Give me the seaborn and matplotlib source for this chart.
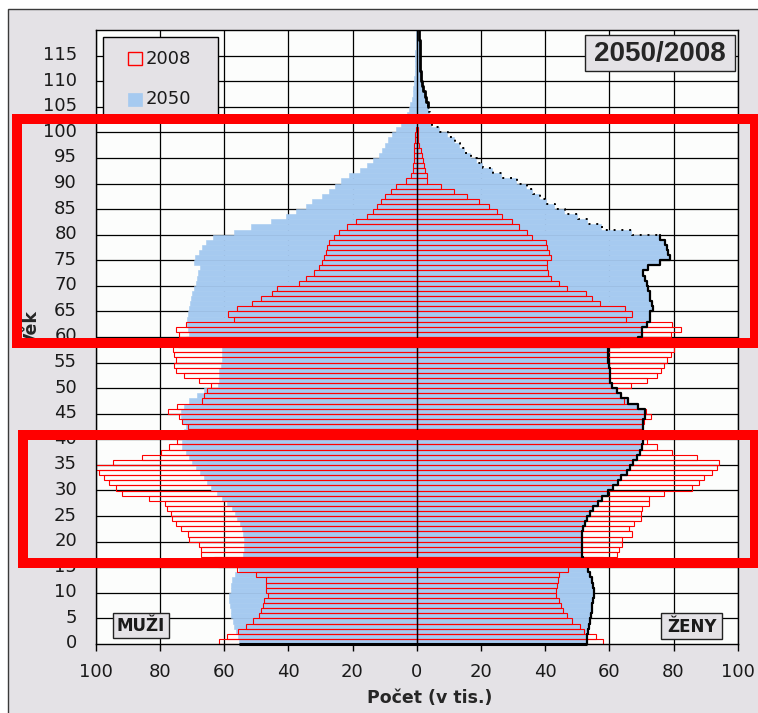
import numpy as np
import matplotlib
matplotlib.use("Agg")
import matplotlib.pyplot as plt
from matplotlib.patches import Rectangle
import seaborn as sns

sns.set_theme(style="white")
plt.rcParams['font.family'] = ['DejaVu Sans']

# --- data (thousands of people by single year of age) ---
ages = np.arange(120)
ages_2008 = np.arange(101)

male_2008 = np.array([
    61.5, 59.2, 55.6, 53.3, 51.0, 49.0, 48.5, 48.0, 47.5, 46.4,
    47.0, 47.0, 47.0, 50.2, 55.9, 62.0, 63.1, 67.3, 67.3, 67.8,
    70.9, 71.4, 73.5, 75.0, 76.1, 76.6, 77.7, 78.4, 83.4, 91.7,
    93.8, 95.8, 97.4, 99.0, 100.2, 94.6, 85.5, 79.8, 77.2, 74.6,
    72.0, 71.0, 71.4, 73.0, 74.0, 77.5, 74.6, 66.8, 66.3, 65.2,
    64.2, 67.8, 72.5, 75.0, 75.6, 75.0, 75.6, 76.0, 74.5, 72.0,
    74.0, 75.0, 72.0, 56.9, 58.7, 55.9, 51.2, 48.6, 45.2, 43.4,
    36.7, 34.6, 32.0, 30.4, 29.4, 28.9, 28.3, 27.8, 27.3, 25.8,
    24.2, 21.6, 19.0, 15.4, 13.5, 12.5, 11.2, 10.0, 8.0, 6.5,
    3.4, 1.9, 1.2, 1.0, 0.9, 0.8, 0.8, 0.8, 0.5, 0.4, 0.3])

female_2008 = np.array([
    58.0, 56.0, 52.0, 50.8, 48.5, 46.8, 45.7, 44.8, 44.3, 43.3,
    43.3, 43.8, 44.0, 44.3, 47.0, 52.0, 58.0, 62.5, 63.0, 64.0,
    64.0, 67.2, 66.1, 67.7, 69.8, 69.8, 70.3, 72.4, 72.4, 77.0,
    85.9, 88.0, 89.5, 92.1, 93.7, 94.2, 87.4, 79.6, 75.0, 71.8,
    70.0, 69.8, 70.3, 70.8, 72.9, 71.3, 68.7, 64.6, 63.5, 62.0,
    66.7, 71.8, 75.0, 76.0, 77.0, 78.1, 79.1, 80.2, 79.5, 78.5,
    79.1, 82.2, 79.4, 65.3, 67.2, 64.8, 57.0, 54.7, 52.6, 46.9,
    44.3, 41.7, 41.0, 40.5, 40.5, 41.7, 41.2, 40.7, 40.2, 36.0,
    34.5, 31.9, 29.8, 26.7, 25.1, 22.5, 19.4, 15.8, 11.6, 7.5,
    3.3, 3.1, 2.6, 2.3, 2.1, 1.8, 1.2, 0.7, 0.5, 0.4, 0.3])

male_2050 = np.array([
    55.3, 55.8, 56.3, 56.8, 57.3, 57.7, 58.0, 58.3, 58.5, 58.4,
    58.0, 57.8, 57.4, 56.5, 55.5, 55.0, 54.5, 54.0, 53.8, 53.8,
    53.8, 54.0, 54.3, 55.0, 55.9, 56.7, 57.4, 59.0, 60.5, 62.3,
    64.2, 65.2, 66.3, 67.6, 68.8, 70.0, 71.0, 72.0, 73.0, 73.0,
    72.8, 72.5, 72.0, 73.0, 73.3, 73.5, 72.5, 71.0, 68.5, 66.3,
    62.0, 61.6, 61.6, 61.6, 61.0, 60.8, 60.6, 60.6, 65.0, 70.0,
    71.0, 71.4, 71.6, 71.5, 71.2, 70.9, 70.7, 70.4, 70.0, 69.5,
    68.8, 68.5, 68.0, 67.5, 69.4, 69.2, 67.8, 67.0, 65.5, 63.5,
    57.0, 51.5, 45.5, 40.7, 37.5, 34.6, 32.5, 29.6, 27.3, 25.5,
    23.5, 21.0, 17.8, 15.4, 13.5, 11.8, 10.8, 10.0, 9.0, 7.7,
    6.5, 5.0, 4.0, 3.0, 2.5, 2.0, 1.5, 1.2, 1.0, 0.8,
    0.7, 0.6, 0.5, 0.5, 0.4, 0.4, 0.3, 0.3, 0.3, 0.2])

female_2050 = np.array([
    52.6, 52.9, 53.2, 53.4, 53.7, 54.0, 54.2, 54.4, 54.7, 54.9,
    54.9, 54.7, 54.2, 53.7, 53.2, 52.1, 51.6, 51.3, 51.1, 51.1,
    51.1, 51.3, 51.6, 52.1, 52.6, 53.7, 54.7, 56.3, 57.3, 59.4,
    60.9, 62.5, 63.5, 65.1, 66.1, 67.2, 68.2, 69.2, 69.8, 70.3,
    70.3, 70.3, 70.3, 70.3, 70.8, 70.8, 68.7, 65.6, 63.5, 62.0,
    60.4, 59.9, 59.9, 59.9, 59.5, 59.2, 59.2, 59.2, 63.0, 68.7,
    69.8, 69.8, 71.3, 72.4, 72.4, 73.4, 72.9, 72.4, 72.4, 71.8,
    71.3, 70.8, 70.3, 71.8, 75.5, 78.6, 78.1, 77.6, 77.0, 75.5,
    66.7, 57.3, 53.2, 50.0, 45.9, 42.8, 40.2, 38.1, 36.0, 34.0,
    30.8, 26.2, 23.6, 20.4, 18.4, 16.6, 14.7, 13.2, 11.6, 9.5,
    6.9, 4.4, 4.2, 3.8, 3.4, 3.1, 2.7, 2.3, 1.7, 1.2,
    1.0, 0.9, 0.8, 0.8, 0.7, 0.7, 0.6, 0.6, 0.5, 0.5])

xticks = np.arange(-100, 101, 20)
yticks = np.arange(0, 116, 5)

BLUE = '#A6CAF0'
RED = '#FF0000'
PANEL = '#E4E2E6'

# pixel helpers (image is 758 x 713)
W, H = 758, 713
AX_L, AX_R, AX_T, AX_B = 95.7, 737.7, 30.0, 644.0


def fx(px):
    return px / W


def fy(py):
    return 1 - py / H


def ax_x(px):
    return (px - AX_L) / (AX_R - AX_L)


def ax_y(py):
    return (AX_B - py) / (AX_B - AX_T)


fig = plt.figure(figsize=(7.58, 7.13), dpi=100)
fig.patch.set_facecolor('white')
fig.add_artist(Rectangle((fx(8), fy(720)), fx(765) - fx(8), fy(9) - fy(720),
                         transform=fig.transFigure, fc=PANEL, ec='#3a3a3a',
                         lw=1, zorder=-5))

ax = fig.add_axes([fx(AX_L), fy(AX_B), fx(AX_R) - fx(AX_L), fy(AX_T) - fy(AX_B)])
ax.set_facecolor('#FCFDFC')
ax.set_axisbelow(True)


def bars(values, yy, fill, color):
    n0 = len(ax.patches)
    sns.barplot(x=values, y=yy, orient='y', native_scale=True, width=1,
                color=color, saturation=1, fill=fill, errorbar=None, ax=ax)
    for p in ax.patches[n0:]:
        if fill:
            p.set_facecolor(color)
            p.set_edgecolor(color)
            p.set_linewidth(0.4)
            p.set_zorder(1)
        else:
            p.set_facecolor('none')
            p.set_edgecolor(color)
            p.set_linewidth(0.8)
            p.set_zorder(2)


# 2050 filled bars, 2008 outlined bars on top
bars(-male_2050, ages, True, BLUE)
bars(female_2050, ages, True, BLUE)
bars(-male_2008, ages_2008, False, RED)
bars(female_2008, ages_2008, False, RED)

# black outline along the 2050 female profile
edge_y = np.column_stack([ages - 0.5, ages + 0.5]).ravel()
edge_x = np.repeat(female_2050 + 0.3, 2)
ax.plot([-male_2050[0], edge_x[0]], [-0.5, -0.5], color='black', lw=2.2,
        zorder=3, clip_on=False, solid_capstyle='butt')
ax.plot(edge_x[:160], edge_y[:160], color='black', lw=1.6, zorder=3)
ax.plot(edge_x[158:212], edge_y[158:212], color='black', lw=1.4,
        linestyle=(0, (1, 3)), zorder=3)
ax.plot(edge_x[210:], edge_y[210:], color='black', lw=2.0, zorder=3)

ax.axvline(0, color='black', lw=1, zorder=4)

ax.set_xlim(-100, 100)
ax.set_ylim(-0.5, 119.5)
ax.set_xticks(xticks)
ax.set_xticklabels([str(abs(v)) for v in xticks])
ax.set_yticks(yticks)
ax.set_yticklabels([str(v) for v in yticks])
ax.set_yticks(np.arange(4.5, 119.5, 5), minor=True)
ax.grid(False)
ax.grid(True, which='major', axis='x', color='black', lw=0.9)
ax.grid(True, which='minor', axis='y', color='black', lw=0.9)
ax.tick_params(axis='y', which='both', length=0, pad=13.5, labelsize=13,
               labelcolor='#1a1a1a')
ax.tick_params(axis='x', which='major', bottom=True, length=5, width=1,
               color='black', pad=9, labelsize=13, labelcolor='#1a1a1a')
for s in ax.spines.values():
    s.set_color('black')
    s.set_linewidth(1)

ax.set_xlabel('Počet (v tis.)', fontsize=12.5, fontweight='bold', va='center')
ax.xaxis.set_label_coords(ax_x(430), ax_y(698))
ax.set_ylabel('Věk', fontsize=12.5, fontweight='bold', va='center')
ax.yaxis.set_label_coords(ax_x(31.7), ax_y(328))

# legend box
ax.add_patch(Rectangle((ax_x(103), ax_y(120)), ax_x(218) - ax_x(103),
                       ax_y(37) - ax_y(120), transform=ax.transAxes,
                       fc=PANEL, ec='black', lw=1, zorder=6))
ax.add_patch(Rectangle((ax_x(128), ax_y(65)), ax_x(142) - ax_x(128),
                       ax_y(52) - ax_y(65), transform=ax.transAxes,
                       fc='none', ec=RED, lw=1, zorder=7))
ax.add_patch(Rectangle((ax_x(128), ax_y(106)), ax_x(142) - ax_x(128),
                       ax_y(93) - ax_y(106), transform=ax.transAxes,
                       fc=BLUE, ec=BLUE, lw=0.5, zorder=7))
ax.text(ax_x(146), ax_y(58.5), '2008', transform=ax.transAxes, ha='left',
        va='center', fontsize=13, color='#1a1a1a', zorder=7)
ax.text(ax_x(146), ax_y(99.5), '2050', transform=ax.transAxes, ha='left',
        va='center', fontsize=13, color='#1a1a1a', zorder=7)

# title box and side labels
for (x0, y0, x1, y1) in [(585, 35, 735, 71), (113, 613, 169, 638), (661, 613, 722, 639)]:
    ax.add_patch(Rectangle((ax_x(x0), ax_y(y1)), ax_x(x1) - ax_x(x0),
                           ax_y(y0) - ax_y(y1), transform=ax.transAxes,
                           fc=PANEL, ec='#222222', lw=1, zorder=6))
ax.text(ax_x(660), ax_y(53.5), '2050/2008', transform=ax.transAxes,
        ha='center', va='center', fontsize=20, fontweight='bold',
        family=['Liberation Sans', 'DejaVu Sans'], zorder=7)
ax.text(ax_x(141), ax_y(626), 'MUŽI', transform=ax.transAxes, ha='center',
        va='center', fontsize=12, fontweight='bold', color='#1a1a1a', zorder=7)
ax.text(ax_x(691.5), ax_y(626.5), 'ŽENY', transform=ax.transAxes, ha='center',
        va='center', fontsize=12, fontweight='bold', color='#1a1a1a', zorder=7)

# red highlight frames
for (x0, y0, x1, y1) in [(16.7, 119, 755, 343.3), (22.8, 435.3, 755, 563.3)]:
    fig.add_artist(Rectangle((fx(x0), fy(y1)), fx(x1) - fx(x0), fy(y0) - fy(y1),
                             transform=fig.transFigure, fill=False, ec=RED,
                             lw=7.2, joinstyle='miter', zorder=10))

fig.savefig('out.png', dpi=100)
